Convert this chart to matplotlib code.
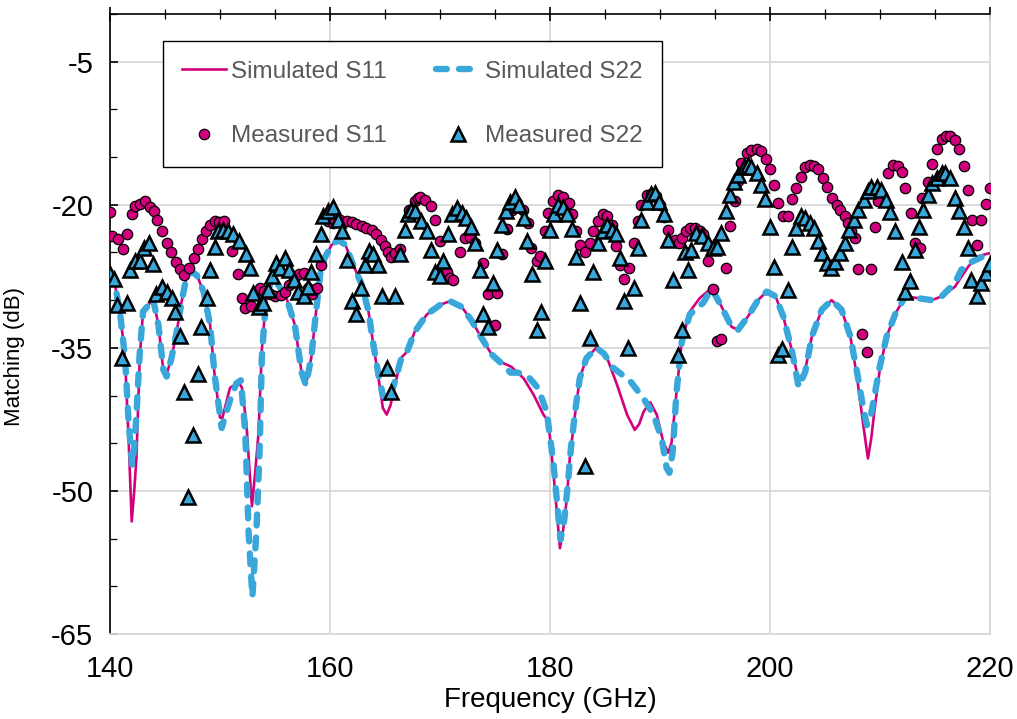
import numpy as np
import matplotlib
matplotlib.use("Agg")
import matplotlib.pyplot as plt
from matplotlib.ticker import MultipleLocator
from matplotlib.lines import Line2D

plt.rcParams["font.family"] = ["Liberation Sans", "DejaVu Sans"]
plt.rcParams["axes.unicode_minus"] = False

# simulated curves (GHz, dB)
sim_s11_f = [140.0, 140.45, 140.9, 141.36, 141.7, 141.97, 142.2, 142.4, 142.7, 143.0, 143.5, 143.9,
             144.4, 144.85, 145.05, 145.6, 146.06, 146.5, 146.97, 147.4, 147.9, 148.5, 149.1, 149.5,
             150.0, 150.2, 150.9, 151.7, 152.0, 152.4, 152.9, 153.2, 153.5, 153.8, 154.1, 154.3,
             154.7, 155.3, 156.05, 156.8, 157.4, 157.8, 158.3, 158.6, 159.1, 159.5, 160.15, 160.75,
             161.4, 162.1, 162.9, 163.5, 163.9, 164.4, 164.8, 165.15, 165.5, 165.9, 166.5, 167.0,
             167.7, 168.8, 170.0, 170.9, 171.97, 172.9, 173.8, 174.7, 175.75, 176.5, 177.6, 178.5,
             179.4, 179.85, 180.3, 180.9, 181.2, 181.5, 181.8, 182.3, 182.7, 183.3, 184.2, 185.2,
             186.1, 187.0, 187.7, 188.1, 188.5, 189.1, 189.7, 190.3, 190.75, 191.05, 191.5, 191.97,
             192.7, 193.6, 194.7, 195.6, 196.5, 197.1, 198.0, 198.9, 199.7, 200.5, 201.2, 201.97,
             202.6, 203.2, 203.8, 204.7, 205.6, 206.5, 207.3, 207.9, 208.5, 208.9, 209.2, 209.5,
             209.97, 210.6, 211.4, 212.3, 213.5, 214.7, 215.6, 216.8, 218.0, 218.9, 219.85, 220.0]
sim_s11_db = [-27.0, -28.4, -31.2, -36.0, -44.9, -53.2, -50.0, -46.5, -36.0, -31.2, -30.5, -29.8,
              -32.6, -37.5, -38.1, -36.0, -33.3, -30.2, -27.4, -27.0, -27.4, -29.1, -32.6, -37.8,
              -42.3, -42.4, -39.2, -38.6, -39.2, -43.0, -51.6, -48.0, -43.9, -35.2, -31.0, -29.1,
              -28.0, -28.4, -29.8, -32.6, -37.5, -38.9, -36.0, -32.6, -27.3, -25.6, -24.2, -23.7,
              -24.2, -26.3, -28.4, -31.2, -34.4, -38.1, -41.3, -42.0, -41.0, -38.9, -36.0, -35.4,
              -33.3, -31.5, -30.5, -30.1, -30.7, -32.2, -34.0, -35.7, -36.6, -37.0, -38.2, -39.9,
              -42.0, -42.7, -48.0, -56.0, -54.0, -51.1, -46.5, -41.7, -38.2, -36.1, -35.0, -36.1,
              -38.9, -42.0, -43.6, -43.0, -41.7, -40.7, -42.0, -44.9, -46.0, -44.9, -39.6, -34.4,
              -31.2, -29.8, -28.7, -30.7, -32.8, -33.1, -31.7, -30.0, -29.1, -29.6, -31.7, -35.2,
              -38.4, -37.3, -33.8, -31.0, -30.0, -31.0, -33.8, -38.0, -43.3, -46.6, -44.5, -41.5,
              -37.3, -33.8, -31.4, -29.6, -29.8, -30.0, -29.6, -28.6, -26.5, -25.4, -25.1, -25.1]

sim_s22_f = [140.0, 140.45, 140.9, 141.36, 141.7, 141.85, 142.0, 142.2, 142.4, 142.7, 143.0, 143.5,
             143.9, 144.4, 144.85, 145.15, 145.6, 146.06, 146.5, 146.97, 147.4, 147.9, 148.5, 149.1,
             149.5, 150.15, 150.9, 151.5, 151.9, 152.3, 152.6, 152.94, 153.3, 153.6, 153.8, 154.1,
             154.3, 154.7, 155.3, 156.05, 156.8, 157.4, 157.8, 158.3, 158.6, 159.1, 159.5, 160.15,
             160.75, 161.4, 162.1, 162.9, 163.5, 163.9, 164.4, 164.8, 165.2, 165.5, 165.9, 166.5,
             167.0, 167.7, 168.8, 170.0, 170.9, 171.97, 172.9, 173.8, 174.7, 175.75, 176.4, 177.1,
             178.0, 178.9, 179.7, 180.3, 180.95, 181.3, 181.6, 181.9, 182.3, 182.7, 183.3, 184.2,
             184.9, 185.75, 187.3, 188.5, 189.4, 190.15, 190.6, 190.85, 191.15, 191.5, 191.97, 192.7,
             193.2, 193.9, 194.7, 195.6, 196.5, 197.1, 198.0, 198.9, 199.7, 200.5, 201.2, 201.97,
             202.6, 203.2, 203.8, 204.7, 205.6, 206.5, 207.3, 207.9, 208.5, 208.8, 209.1, 209.5,
             209.97, 210.6, 211.4, 212.3, 213.5, 214.7, 215.6, 216.8, 217.4, 218.3, 219.2, 220.0]
sim_s22_db = [-27.0, -28.4, -31.2, -36.0, -43.0, -45.0, -47.3, -45.5, -42.0, -35.5, -31.2, -30.5,
              -29.8, -32.6, -37.3, -38.0, -36.0, -33.3, -30.2, -27.4, -27.0, -27.4, -29.1, -32.6,
              -37.8, -43.4, -40.5, -38.7, -38.4, -44.0, -54.4, -61.1, -54.4, -45.7, -36.0, -31.0,
              -29.1, -28.0, -28.4, -29.8, -32.6, -37.5, -38.9, -36.0, -32.6, -27.3, -25.6, -24.2,
              -23.7, -24.2, -26.3, -28.4, -31.2, -34.4, -37.8, -40.0, -40.5, -40.0, -38.5, -36.0,
              -35.4, -33.3, -31.5, -30.5, -30.1, -30.7, -32.2, -34.0, -35.7, -36.8, -37.6, -37.6,
              -38.0, -39.2, -41.7, -47.0, -55.1, -53.0, -49.5, -45.5, -41.5, -38.2, -36.1, -35.0,
              -35.6, -37.1, -38.5, -40.3, -42.0, -44.5, -47.6, -48.1, -45.9, -39.6, -34.4, -31.5,
              -31.0, -30.3, -28.8, -30.7, -32.8, -33.1, -31.7, -30.0, -29.1, -29.6, -31.7, -35.2,
              -39.1, -37.5, -33.8, -31.0, -30.0, -31.0, -33.8, -37.5, -41.5, -43.1, -42.5, -40.0,
              -37.0, -33.8, -31.4, -29.6, -29.8, -30.0, -29.6, -28.2, -26.8, -26.0, -25.5, -25.1]

# measured data
meas_s11_f = [140.0, 140.2, 140.75, 141.2, 141.5, 141.97, 142.3, 142.7, 143.2, 143.6, 144.0, 144.3,
              144.75, 145.15, 145.5, 145.97, 146.4, 146.75, 147.2, 147.6, 147.97, 148.4, 148.7, 149.1,
              149.5, 149.9, 150.4, 151.1, 151.6, 151.97, 152.3, 152.8, 153.2, 153.6, 154.0, 154.5,
              155.0, 155.5, 155.9, 156.3, 156.75, 157.2, 157.6, 158.0, 158.4, 158.8, 159.2, 159.85,
              160.3, 160.9, 161.5, 161.97, 162.4, 162.9, 163.3, 163.8, 164.2, 164.6, 164.97, 165.3,
              165.5, 165.9, 166.4, 167.2, 167.7, 168.0, 168.2, 168.6, 169.2, 169.5, 170.0, 170.6,
              170.9, 171.2, 171.8, 172.3, 172.7, 173.2, 173.9, 174.4, 175.0, 175.2, 175.6, 176.1,
              176.5, 177.0, 177.5, 178.0, 178.3, 178.8, 179.1, 179.5, 179.85, 180.3, 180.75, 181.2,
              181.7, 182.0, 182.4, 182.7, 183.2, 183.6, 183.95, 184.4, 184.8, 185.2, 185.6, 185.97,
              186.4, 186.7, 187.2, 187.6, 188.0, 188.3, 188.8, 189.2, 189.6, 190.0, 190.4, 190.75,
              191.4, 191.7, 191.97, 192.4, 192.7, 193.2, 193.6, 193.9, 194.4, 194.85, 195.15, 195.55,
              196.0, 196.4, 196.8, 197.1, 197.4, 197.9, 198.3, 198.8, 199.2, 199.6, 199.97, 200.4,
              200.75, 201.2, 201.6, 201.97, 202.4, 202.8, 203.2, 203.6, 203.97, 204.4, 204.8, 205.2,
              205.6, 206.06, 206.4, 206.8, 207.1, 207.4, 207.7, 208.0, 208.4, 208.8, 209.2, 209.5,
              209.85, 210.75, 211.2, 211.6, 211.97, 212.3, 212.8, 213.2, 213.6, 213.8, 214.4, 214.75,
              215.2, 215.6, 216.0, 216.4, 216.8, 217.2, 217.6, 217.97, 218.4, 218.8, 219.2, 219.6,
              220.0]
meas_s11_db = [-20.8, -23.3, -23.6, -24.6, -23.1, -21.0, -20.1, -19.9, -19.6, -20.2, -20.6, -21.6,
               -22.8, -24.0, -24.9, -26.0, -26.7, -27.4, -26.6, -25.6, -24.6, -23.6, -22.8, -22.1,
               -21.7, -21.8, -21.7, -24.8, -27.3, -29.8, -30.8, -30.6, -29.3, -28.7, -29.0, -29.4,
               -29.6, -29.5, -29.1, -28.4, -27.8, -27.3, -27.2, -28.7, -29.4, -28.7, -26.3, -21.7,
               -21.9, -21.6, -21.7, -21.8, -22.0, -22.2, -22.4, -22.6, -23.1, -23.7, -24.3, -24.9,
               -25.5, -25.1, -24.6, -20.5, -19.6, -19.3, -19.2, -19.5, -20.1, -21.6, -23.8, -27.0,
               -27.7, -27.9, -25.0, -23.5, -23.4, -24.0, -26.1, -29.4, -32.6, -29.3, -25.2, -22.5,
               -20.5, -19.8, -20.5, -21.9, -24.5, -25.9, -25.4, -22.8, -20.9, -19.6, -19.0, -19.2,
               -19.8, -21.0, -22.8, -24.2, -24.9, -24.0, -22.8, -21.7, -21.0, -21.2, -22.1, -24.3,
               -26.3, -27.8, -26.6, -24.0, -21.7, -20.0, -19.0, -18.9, -19.1, -20.0, -21.3, -22.6,
               -23.7, -24.0, -23.5, -22.7, -22.4, -22.4, -22.8, -23.1, -25.9, -28.8, -34.3, -34.1,
               -26.6, -22.2, -19.6, -17.5, -15.6, -14.6, -14.3, -14.2, -14.4, -15.2, -16.3, -17.9,
               -19.8, -21.2, -21.2, -19.4, -18.2, -17.1, -16.0, -15.8, -15.9, -16.3, -17.2, -18.1,
               -19.3, -20.0, -20.5, -21.2, -21.9, -22.7, -23.5, -26.7, -33.5, -35.4, -26.7, -22.3,
               -19.6, -16.7, -15.8, -15.9, -16.6, -18.2, -20.9, -24.0, -24.5, -19.3, -17.6, -15.7,
               -14.1, -13.1, -12.8, -12.8, -13.2, -14.2, -15.9, -18.4, -21.6, -24.2, -21.6, -19.9,
               -18.2]

meas_s22_f = [140.0, 140.4, 140.6, 141.1, 141.5, 141.8, 142.3, 142.7, 143.1, 143.5, 143.9, 144.2,
              144.7, 145.15, 145.6, 145.9, 146.4, 146.75, 147.1, 147.5, 147.97, 148.3, 148.8, 149.1,
              149.5, 149.85, 150.3, 150.75, 151.2, 151.7, 152.4, 152.7, 153.0, 153.5, 153.9, 154.4,
              154.7, 155.06, 155.45, 155.9, 156.3, 156.75, 157.1, 157.6, 157.97, 158.3, 158.7, 159.2,
              159.4, 159.85, 160.3, 160.7, 161.1, 161.5, 161.97, 162.4, 162.8, 163.2, 163.5, 163.9,
              164.4, 164.75, 165.15, 165.5, 165.9, 166.4, 166.8, 167.1, 167.4, 167.7, 168.3, 168.8,
              169.2, 169.5, 170.0, 170.3, 170.75, 171.06, 171.5, 171.97, 172.4, 172.8, 173.2, 173.6,
              173.9, 174.4, 174.85, 175.15, 175.6, 176.0, 176.4, 176.8, 177.2, 177.6, 177.9, 178.4,
              178.8, 179.2, 179.5, 179.97, 180.4, 180.75, 181.2, 181.5, 181.97, 182.4, 182.7, 183.2,
              183.6, 183.95, 184.4, 184.85, 185.2, 185.6, 185.97, 186.4, 186.7, 187.1, 187.6, 187.97,
              188.3, 188.8, 189.15, 189.5, 189.9, 190.4, 190.75, 191.15, 191.6, 191.97, 192.3, 192.5,
              192.8, 193.3, 193.8, 194.4, 194.85, 195.2, 195.5, 196.0, 196.4, 196.75, 197.1, 197.6,
              198.0, 198.3, 198.8, 199.2, 199.5, 199.97, 200.4, 200.75, 201.1, 201.6, 201.97, 202.4,
              202.8, 203.2, 203.6, 203.97, 204.4, 204.75, 205.2, 205.5, 205.9, 206.4, 206.8, 207.2,
              207.6, 208.0, 208.5, 208.9, 209.2, 209.7, 210.1, 210.5, 210.9, 211.4, 211.97, 212.3,
              212.7, 213.2, 213.5, 213.9, 214.4, 214.75, 215.2, 215.6, 215.9, 216.4, 216.8, 217.2,
              217.6, 217.97, 218.3, 218.8, 219.2, 219.6, 220.0]
meas_s22_db = [-27.3, -27.8, -30.5, -36.1, -30.3, -26.8, -25.9, -25.9, -24.5, -24.0, -26.2, -29.4,
               -28.6, -29.1, -29.8, -31.2, -33.8, -39.6, -50.6, -44.1, -37.7, -32.8, -29.8, -26.8,
               -24.4, -22.8, -22.6, -22.8, -23.1, -23.8, -25.2, -26.6, -29.3, -30.7, -30.3, -28.9,
               -27.5, -26.1, -26.6, -25.6, -26.8, -27.9, -29.1, -29.6, -28.6, -27.0, -25.2, -23.1,
               -21.2, -20.7, -20.2, -21.6, -22.8, -25.8, -30.1, -31.4, -28.7, -26.3, -24.8, -25.2,
               -26.3, -29.6, -37.1, -39.6, -29.6, -25.2, -22.6, -21.0, -20.5, -20.7, -21.7, -22.8,
               -24.7, -27.0, -27.5, -25.9, -23.1, -21.0, -20.3, -20.9, -21.4, -22.3, -24.0, -26.8,
               -31.4, -32.8, -28.2, -24.7, -22.1, -20.6, -19.7, -19.2, -20.0, -21.4, -23.8, -27.3,
               -33.1, -31.2, -25.9, -22.6, -21.0, -20.0, -20.2, -21.0, -22.5, -25.5, -30.3, -47.4,
               -34.0, -27.0, -24.0, -22.8, -22.1, -22.6, -23.1, -25.6, -30.1, -35.0, -28.7, -24.5,
               -21.6, -19.7, -18.9, -18.8, -19.7, -21.0, -23.7, -27.9, -35.7, -33.1, -24.9, -26.8,
               -24.7, -23.0, -23.3, -24.0, -24.5, -24.4, -23.0, -20.7, -19.0, -17.6, -16.9, -16.0,
               -15.8, -16.0, -16.7, -17.9, -19.4, -22.3, -26.5, -35.7, -35.1, -28.9, -24.4, -22.4,
               -21.2, -21.4, -21.9, -22.4, -23.8, -25.1, -26.1, -26.6, -26.0, -25.1, -24.0, -22.6,
               -21.6, -20.5, -19.5, -18.6, -18.1, -18.1, -18.4, -19.5, -20.8, -22.8, -26.0, -29.1,
               -28.0, -24.7, -22.3, -20.5, -19.0, -17.7, -17.2, -16.7, -16.7, -17.2, -19.3, -20.7,
               -22.3, -24.5, -27.9, -29.6, -28.2, -27.2, -26.2]

C11 = "#d2007d"
C22 = "#3aa7da"
GRID = "#d9d9d9"

fig = plt.figure(figsize=(10.17, 7.19), dpi=100)
ax = fig.add_axes([0.1082, 0.1182, 0.8653, 0.8623])

ax.plot(sim_s11_f, sim_s11_db, color=C11, lw=1.9, zorder=3)
ax.plot(sim_s22_f, sim_s22_db, color=C22, lw=4.6, dashes=(1.7, 1.9),
        dash_capstyle="round", zorder=4)
ax.plot(meas_s11_f, meas_s11_db, ls="none", marker="o", ms=7.5, mfc=C11, mec="black",
        mew=0.9, zorder=5)
ax.plot(meas_s22_f, meas_s22_db, ls="none", marker="^", ms=10, mfc=C22, mec="black",
        mew=1.8, zorder=6)

ax.set_xlim(140, 220)
ax.set_ylim(-65, 0)
ax.xaxis.set_major_locator(MultipleLocator(20))
ax.xaxis.set_minor_locator(MultipleLocator(5))
ax.set_yticks([-65, -50, -35, -20, -5])
ax.yaxis.set_minor_locator(MultipleLocator(5))
ax.grid(True, which="major", color=GRID, lw=1.3, zorder=0)
ax.set_axisbelow(True)

ax.tick_params(axis="x", which="both", bottom=False, top=True, labelbottom=True,
               labeltop=False, direction="inout", color="black", labelsize=21)
ax.tick_params(axis="x", which="major", length=10, width=1.2, pad=10)
ax.tick_params(axis="x", which="minor", length=7, width=0.9)
ax.tick_params(axis="y", which="both", left=True, right=False, direction="in",
               labelsize=21, pad=12)
ax.tick_params(axis="y", which="major", length=6, width=1.2)
ax.tick_params(axis="y", which="minor", length=5, width=0.9)

ax.spines["top"].set_color("black")
ax.spines["left"].set_color("black")
ax.spines["top"].set_linewidth(1.2)
ax.spines["left"].set_linewidth(1.2)
ax.spines["bottom"].set_color(GRID)
ax.spines["right"].set_color(GRID)
ax.spines["bottom"].set_linewidth(1.3)
ax.spines["right"].set_linewidth(1.3)

ax.set_xlabel("Frequency (GHz)", fontsize=20, labelpad=3)
ax.set_ylabel("Matching (dB)", fontsize=16)
ax.yaxis.set_label_coords(-0.097, 0.448)

handles = [
    Line2D([], [], color=C11, lw=1.9),
    Line2D([], [], ls="none", marker="o", ms=7.5, mfc=C11, mec="black", mew=0.9),
    Line2D([], [], color=C22, lw=4.6, dashes=(1.7, 1.9), dash_capstyle="round"),
    Line2D([], [], ls="none", marker="^", ms=10, mfc=C22, mec="black", mew=1.8),
]
labels = ["Simulated S11", "Measured S11", "Simulated S22", "Measured S22"]
leg = ax.legend(handles, labels, ncol=2, loc="upper left",
                bbox_to_anchor=(0.060, 0.956, 0.567, 0.0), mode="expand",
                fontsize=17.5, frameon=True, fancybox=False, framealpha=1,
                edgecolor="black", handlelength=1.8, handletextpad=0.2,
                labelspacing=1.75, borderpad=0.8, borderaxespad=0)
leg.get_frame().set_linewidth(1.0)
for t in leg.get_texts():
    t.set_color("#595959")

fig.savefig("out.png", dpi=100)
